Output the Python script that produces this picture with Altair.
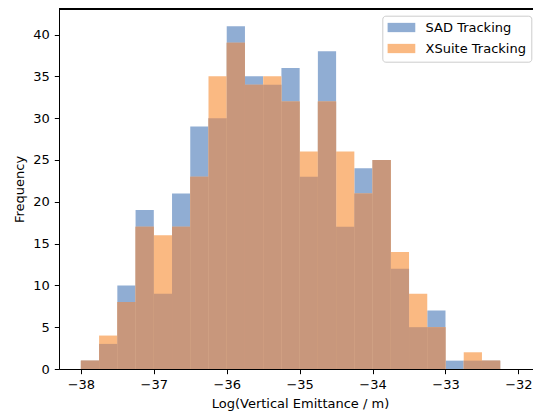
import altair as alt
import pandas as pd

# ---- data (bin width 0.25) ----
bin_left = [-38.0, -37.75, -37.5, -37.25, -37.0, -36.75, -36.5, -36.25,
            -36.0, -35.75, -35.5, -35.25, -35.0, -34.75, -34.5, -34.25,
            -34.0, -33.75, -33.5, -33.25, -33.0, -32.75, -32.5]
bin_right = [-37.75, -37.5, -37.25, -37.0, -36.75, -36.5, -36.25, -36.0,
             -35.75, -35.5, -35.25, -35.0, -34.75, -34.5, -34.25, -34.0,
             -33.75, -33.5, -33.25, -33.0, -32.75, -32.5, -32.25]
sad_counts = [1, 3, 10, 19, 9, 21, 29, 30, 41, 35, 34, 36, 23, 38, 17, 24,
              25, 12, 5, 7, 1, 1, 1]
xsuite_counts = [1, 4, 8, 17, 16, 17, 23, 35, 39, 34, 35, 32, 26, 32, 26, 21,
                 25, 14, 9, 5, 0, 2, 1]
series_names = ["SAD Tracking", "XSuite Tracking"]
x_ticks = [-38, -37, -36, -35, -34, -33, -32]
y_ticks = [0, 5, 10, 15, 20, 25, 30, 35, 40]

BLUE = "#90add3"
ORANGE = "#fab982"
OVERLAP = "#c8977c"
FONT = "DejaVu Sans"

rows = []
for k, (name, counts) in enumerate(zip(series_names, [sad_counts, xsuite_counts])):
    for a, b, c in zip(bin_left, bin_right, counts):
        rows.append({"x0": a, "x1": b, "count": c, "base": 0,
                     "series": name, "ord": k})
df_long = pd.DataFrame(rows)

df_wide = pd.DataFrame({
    "x0": bin_left,
    "x1": bin_right,
    "sad": sad_counts,
    "xsuite": xsuite_counts,
})
df_wide["overlap"] = df_wide[["sad", "xsuite"]].min(axis=1)
df_wide["base"] = 0

W, H = 474, 360
xs = alt.Scale(domain=[-38.3, -31.8], nice=False, zero=False)
ys = alt.Scale(domain=[0, 43.05], nice=False, zero=False)

x_axis = alt.Axis(values=x_ticks, format="d",
                  title="Log(Vertical Emittance / m)",
                  titleX=241, labelFlush=False, labelPadding=4.5,
                  titlePadding=6)
y_axis = alt.Axis(values=y_ticks, format="d", title="Frequency",
                  labelPadding=5, titlePadding=6)

bars = alt.Chart(df_long).mark_rect().encode(
    x=alt.X("x0:Q", scale=xs, axis=x_axis),
    x2="x1:Q",
    y=alt.Y("count:Q", scale=ys, axis=y_axis, stack=None),
    y2="base:Q",
    fill=alt.Fill("series:N",
                  scale=alt.Scale(domain=series_names, range=[BLUE, ORANGE]),
                  legend=alt.Legend(title=None, orient="none",
                                    legendX=323.3, legendY=6.7)),
    order=alt.Order("ord:Q"),
)

overlap = alt.Chart(df_wide).mark_rect(color=OVERLAP).encode(
    x=alt.X("x0:Q", scale=xs),
    x2="x1:Q",
    y=alt.Y("overlap:Q", scale=ys),
    y2="base:Q",
)

top_spine = alt.Chart(df_wide).mark_rule(color="black", strokeWidth=1).encode(
    x=alt.value(0), x2=alt.value(W), y=alt.value(0)
)

chart = alt.layer(bars, overlap, top_spine).properties(
    width=W, height=H,
    autosize=alt.AutoSizeParams(type="none"),
    padding={"left": 59, "top": 9, "right": 0, "bottom": 42},
).configure_view(stroke=None).configure_axis(
    grid=False,
    domainColor="black", domainWidth=1,
    tickColor="black", tickWidth=1, tickSize=4.7,
    labelFont=FONT, labelFontSize=13, labelColor="black",
    titleFont=FONT, titleFontSize=13, titleFontWeight="normal",
    titleColor="black",
).configure_legend(
    labelFont=FONT, labelFontSize=13, labelColor="black",
    symbolType="M-1,-0.715H3.26V0.715H-1Z", symbolSize=169,
    symbolStrokeWidth=0, symbolOpacity=1,
    labelOffset=25, rowPadding=7, padding=5.3,
    strokeColor="#cccccc", fillColor="rgba(255,255,255,0.8)",
    cornerRadius=3,
)

chart.save("out.html", embed_options={"renderer": "svg", "actions": False})
